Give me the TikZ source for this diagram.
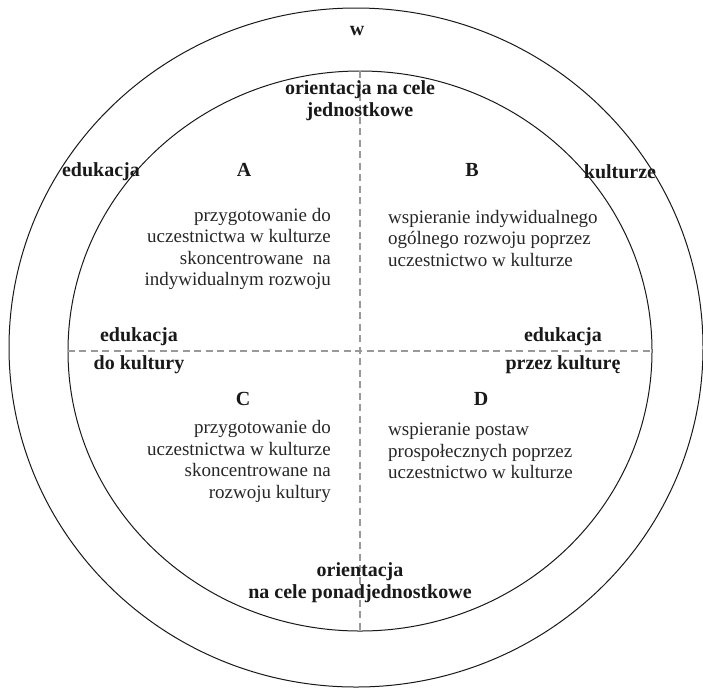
\documentclass[tikz,border=0pt]{standalone}
\usepackage{fontspec}
\setmainfont{Liberation Serif}
\usetikzlibrary{shapes.geometric}

\begin{document}
\begin{tikzpicture}[x=1pt,y=-1pt,
	ring/.style={draw=black!90,ellipse,line width=1pt,inner sep=0pt},
	axis/.style={draw=black!40,dash pattern=on 7pt off 4.5pt,line width=1.2pt},
	lbl/.style={font=\fontsize{20}{22}\selectfont\bfseries,text=black!90,inner sep=0pt},
	desc/.style={font=\fontsize{19}{21.5}\selectfont,text=black!85,inner sep=0pt},
	node distance=228pt]

\useasboundingbox (0,0) rectangle (703,689);

\node[ring,minimum width=694pt,minimum height=679pt] (outer) at (356,347.5) {};
	\node[ring,minimum width=584pt,minimum height=560pt] (inner) at (360,351) {};

\draw[axis] (inner.north) -- (inner.south);
	\draw[axis] (inner.west) -- (inner.east);

\node[lbl]   (w)      at (357,31)   {w};
\node[lbl,align=center] (goalI) at (360,101) {orientacja na cele\\jednostkowe};
	\node[lbl]   (eduL)   at (101,172)  {edukacja};
	\node[lbl]   (cultR)  at (620,172)  {kulturze};

\node[lbl]   (A)      at (244,170)  {A};
	\node[lbl]   (B)      [right of=A]  {B};
\node[desc,align=right,anchor=east] (txtA) at (331,249)
	{przygotowanie do\\uczestnictwa w kulturze\\skoncentrowane~~na\\indywidualnym rozwoju};
\node[desc,align=left,anchor=west]  (txtB) at (388,238)
	{wspieranie indywidualnego\\ogólnego rozwoju poprzez\\uczestnictwo w kulturze};

\node[lbl]   (eduTo)  at (139,337)  {edukacja};
	\node[lbl]   (toCult) at (139,365)  {do kultury};
\node[lbl]   (eduBy)  at (563,337)  {edukacja};
	\node[lbl]   (byCult) at (563,365)  {przez kulturę};

\node[lbl]   (C)      at (243,399)  {C};
	\node[lbl]   (D)      at (481,399)  {D};
\node[desc,align=right,anchor=east] (txtC) at (331,461.5)
	{przygotowanie do\\uczestnictwa w kulturze\\skoncentrowane na\\rozwoju kultury};
\node[desc,align=left,anchor=west]  (txtD) at (388,451)
	{wspieranie postaw\\prospołecznych poprzez\\uczestnictwo w kulturze};

\node[lbl,align=center] (goalS) at (360,583) {orientacja\\na cele ponadjednostkowe};

\end{tikzpicture}
\end{document}
